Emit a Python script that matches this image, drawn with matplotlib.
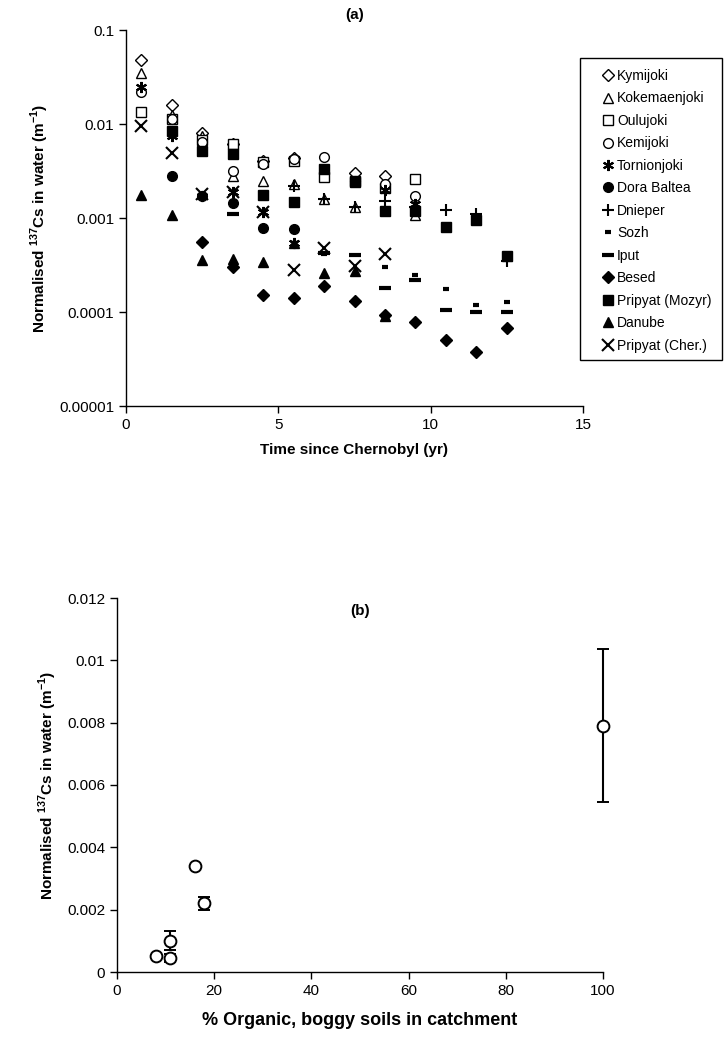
import matplotlib
matplotlib.use("Agg")
import matplotlib.pyplot as plt
from matplotlib.patches import Rectangle

plt.rcParams['font.family'] = ['Liberation Sans', 'DejaVu Sans']
plt.rcParams['mathtext.fontset'] = 'custom'
plt.rcParams['mathtext.rm'] = 'Liberation Sans:bold'
plt.rcParams['mathtext.bf'] = 'Liberation Sans:bold'

# --- (a) normalised 137Cs vs time, one series per river ---
kymijoki_t = [0.5, 1.5, 2.5, 3.5, 4.5, 5.5, 7.5, 8.5]
kymijoki_v = [0.048, 0.0160, 0.0080, 0.0062, 0.0040, 0.0043, 0.0030, 0.0028]

kokemaen_t = [0.5, 1.5, 2.5, 3.5, 4.5, 5.5, 6.5, 7.5, 9.5]
kokemaen_v = [0.035, 0.0125, 0.0075, 0.0028, 0.0025, 0.0023, 0.0016, 0.0013, 0.00107]

oulujoki_t = [0.5, 1.5, 2.5, 3.5, 4.5, 5.5, 6.5, 7.5, 8.5, 9.5]
oulujoki_v = [0.0135, 0.0112, 0.0068, 0.0062, 0.0039, 0.0040, 0.0027, 0.0024, 0.0021, 0.0026]

kemijoki_t = [0.5, 1.5, 2.5, 3.5, 4.5, 5.5, 6.5, 7.5, 8.5, 9.5]
kemijoki_v = [0.022, 0.0112, 0.0065, 0.0032, 0.0038, 0.0042, 0.0045, 0.0025, 0.0023, 0.0017]

tornion_t = [0.5, 1.5, 2.5, 3.5, 4.5, 5.5, 8.5, 9.5]
tornion_v = [0.025, 0.0075, 0.0017, 0.0019, 0.00115, 0.00054, 0.0020, 0.0014]

dora_t = [1.5, 2.5, 3.5, 4.5, 5.5]
dora_v = [0.0028, 0.0017, 0.00145, 0.00078, 0.00077]

dnieper_t = [5.5, 6.5, 7.5, 8.5, 9.5, 10.5, 11.5, 12.5]
dnieper_v = [0.0022, 0.0016, 0.0013, 0.0015, 0.0013, 0.00122, 0.0011, 0.00035]

sozh_t = [6.5, 8.5, 9.5, 10.5, 11.5, 12.5]
sozh_v = [0.00041, 0.0003, 0.00025, 0.000176, 0.000118, 0.000127]

iput_t = [3.5, 6.5, 7.5, 8.5, 9.5, 10.5, 11.5, 12.5]
iput_v = [0.0011, 0.00042, 0.0004, 0.00018, 0.00022, 0.000105, 0.0001, 0.0001]

besed_t = [2.5, 3.5, 4.5, 5.5, 6.5, 7.5, 8.5, 9.5, 10.5, 11.5, 12.5]
besed_v = [0.00056, 0.0003, 0.00015, 0.00014, 0.00019, 0.000132, 0.000093,
           0.000078, 0.00005, 0.000038, 0.000067]

mozyr_t = [1.5, 2.5, 3.5, 4.5, 5.5, 6.5, 7.5, 8.5, 9.5, 10.5, 11.5, 12.5]
mozyr_v = [0.0085, 0.0052, 0.0048, 0.00176, 0.00148, 0.0033, 0.0025, 0.0012,
           0.0012, 0.0008, 0.00095, 0.00039]

danube_t = [0.5, 1.5, 2.5, 3.5, 4.5, 5.5, 6.5, 7.5, 8.5]
danube_v = [0.00176, 0.00107, 0.00036, 0.00037, 0.00034, 0.00054, 0.00026, 0.00027, 0.00009]

cher_t = [0.5, 1.5, 2.5, 3.5, 4.5, 5.5, 6.5, 7.5, 8.5]
cher_v = [0.0095, 0.0049, 0.0018, 0.0019, 0.00115, 0.00028, 0.00048, 0.00031, 0.00041]

# --- (b) normalised 137Cs vs % organic soils ---
organic_pct = [8, 11, 11, 16, 18, 100]
cs_water = [0.0005, 0.00045, 0.001, 0.0034, 0.0022, 0.0079]
cs_err = [0.0, 0.00012, 0.0003, 0.0, 0.0002, 0.00245]

W, H = 728, 1063
fig = plt.figure(figsize=(W / 100, H / 100), dpi=100)


def px_axes(left, right, top, bottom):
    return fig.add_axes([left / W, 1 - bottom / H, (right - left) / W, (bottom - top) / H])


def style_axes(ax):
    for s in ("top", "right"):
        ax.spines[s].set_visible(False)
    for s in ("left", "bottom"):
        ax.spines[s].set_linewidth(1.0)
    ax.tick_params(direction="out", length=5, width=1, labelsize=11)
    ax.tick_params(which="minor", length=0)


ylab = r"Normalised $^{137}$Cs in water (m$^{-1}$)"

ax1 = px_axes(126, 583, 30, 406)
series = [
    ("Kymijoki", kymijoki_t, kymijoki_v, dict(marker="D", mfc="white", ms=6)),
    ("Kokemaenjoki", kokemaen_t, kokemaen_v, dict(marker="^", mfc="white", ms=7)),
    ("Oulujoki", oulujoki_t, oulujoki_v, dict(marker="s", mfc="white", ms=6.5)),
    ("Kemijoki", kemijoki_t, kemijoki_v, dict(marker="o", mfc="white", ms=7)),
    ("Tornionjoki", tornion_t, tornion_v, dict(marker=(6, 2, 0), ms=8, mew=1.5)),
    ("Dora Baltea", dora_t, dora_v, dict(marker="o", ms=7)),
    ("Dnieper", dnieper_t, dnieper_v, dict(marker="+", ms=9, mew=1.5)),
    ("Sozh", sozh_t, sozh_v, dict(marker="_", ms=5, mew=3)),
    ("Iput", iput_t, iput_v, dict(marker="_", ms=9, mew=3)),
    ("Besed", besed_t, besed_v, dict(marker="D", ms=6)),
    ("Pripyat (Mozyr)", mozyr_t, mozyr_v, dict(marker="s", ms=7)),
    ("Danube", danube_t, danube_v, dict(marker="^", ms=7.5)),
    ("Pripyat (Cher.)", cher_t, cher_v, dict(marker="x", ms=8, mew=1.5)),
]
for name, t, v, kw in series:
    ax1.plot(t, v, ls="none", color="black", mec="black", label=name, clip_on=False, **kw)

ax1.set_yscale("log")
ax1.set_xlim(0, 15)
ax1.set_ylim(1e-5, 0.1)
ax1.set_xticks([0, 5, 10, 15])
ax1.set_yticks([1e-5, 1e-4, 1e-3, 1e-2, 1e-1])
ax1.set_yticklabels(["0.00001", "0.0001", "0.001", "0.01", "0.1"])
style_axes(ax1)
ax1.set_xlabel("Time since Chernobyl (yr)", fontsize=11, fontweight="bold", labelpad=8)
ax1.set_ylabel(ylab, fontsize=11, fontweight="bold", labelpad=6)
ax1.set_title("(a)", fontsize=11, fontweight="bold", pad=8)

# legend entries without frame, box drawn separately so the padding can differ per side
leg = ax1.legend(loc="upper left", bbox_to_anchor=(601 / W, 1 - 69 / H),
                 bbox_transform=fig.transFigure, frameon=False, fontsize=10,
                 handlelength=1.0, handletextpad=0.15, labelspacing=0.61,
                 borderpad=0, borderaxespad=0, numpoints=1)
fig.add_artist(Rectangle((580 / W, 1 - 360 / H), (722 - 580) / W, (360 - 58) / H,
                         transform=fig.transFigure, fill=False, ec="black", lw=1.0))

ax2 = px_axes(117, 603, 598, 972)
ax2.errorbar(organic_pct, cs_water, yerr=cs_err, fmt="o", color="black",
             mfc="white", mec="black", ms=8.5, mew=1.4, capsize=4.5, elinewidth=1.5,
             capthick=1.5, clip_on=False)
ax2.set_xlim(0, 100)
ax2.set_ylim(0, 0.012)
ax2.set_xticks([0, 20, 40, 60, 80, 100])
ax2.set_yticks([0, 0.002, 0.004, 0.006, 0.008, 0.01, 0.012])
ax2.set_yticklabels(["0", "0.002", "0.004", "0.006", "0.008", "0.01", "0.012"])
style_axes(ax2)
ax2.set_xlabel("% Organic, boggy soils in catchment", fontsize=13, fontweight="bold", labelpad=10)
ax2.set_ylabel(ylab, fontsize=11, fontweight="bold", labelpad=6)
ax2.text(0.5, 0.985, "(b)", transform=ax2.transAxes, ha="center", va="top",
         fontsize=11, fontweight="bold")

fig.savefig("out.png", dpi=100)
